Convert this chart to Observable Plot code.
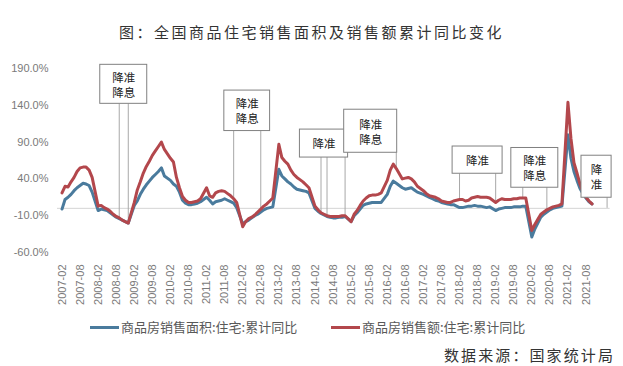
<!DOCTYPE html>
<html><head><meta charset="utf-8">
<script src="https://cdn.jsdelivr.net/npm/d3@7"></script>
<script src="https://cdn.jsdelivr.net/npm/@observablehq/plot@0.6"></script>
<style>
body{margin:0;background:#fff;}
#wrap{position:relative;width:623px;height:366px;overflow:hidden;background:#fff;}
#title{position:absolute;left:0;top:22px;width:623px;text-align:center;font-family:"Noto Sans CJK SC",sans-serif;font-size:15px;letter-spacing:2.5px;color:#333;line-height:20px;white-space:nowrap;}
#chart{position:absolute;left:0;top:50px;}
.leg{position:absolute;top:318px;height:18px;line-height:18px;font-family:"Noto Sans CJK SC",sans-serif;font-size:13px;color:#595959;white-space:nowrap;}
.sw{position:absolute;top:7.5px;width:29px;height:3px;}
#source{position:absolute;left:444px;top:345px;font-family:"Noto Sans CJK SC",sans-serif;font-size:15px;letter-spacing:2.1px;color:#333;line-height:20px;white-space:nowrap;}
</style></head><body>
<div id="wrap">
  <div id="title"></div>
  <div id="chart"></div>
  <div id="leg1" class="leg" style="left:90px"><span class="sw" style="left:0;background:#4a7b9d"></span><span id="leg1t" style="position:absolute;left:31px"></span></div>
  <div id="leg2" class="leg" style="left:331px"><span class="sw" style="left:0;background:#b3474c"></span><span id="leg2t" style="position:absolute;left:31px"></span></div>
  <div id="source"></div>
</div>
<script>
const titleText = "图：全国商品住宅销售面积及销售额累计同比变化";
const sourceText = "数据来源：国家统计局";
const seriesNames = ["商品房销售面积:住宅:累计同比", "商品房销售额:住宅:累计同比"];
const seriesColors = ["#4a7b9d", "#b3474c"];

// months (Feb–Dec each year; Jan merged into Feb)
const years = [2007,2008,2009,2010,2011,2012,2013,2014,2015,2016,2017,2018,2019,2020,2021];
const monthNums = ["02","03","04","05","06","07","08","09","10","11","12"];

// 商品房销售面积:住宅:累计同比 (%), 11 values per year, 2021 to Oct
const areaYoY = [
  -1, 12, 15, 19, 24, 28, 31, 34, 33, 31, 22,
  -3, -1, -2, -3, -6, -9, -12, -14, -16, -18, -20,
  4, 10, 19, 26, 32, 37, 42, 46, 50, 55, 44,
  38, 33, 30, 22, 11, 7, 5, 5, 6, 7, 9,
  15, 11, 6, 9, 10, 11, 13, 11, 9, 7, 1,
  -21, -18, -16, -13, -10, -8, -5, -2, 0, 1, 2,
  53, 44, 40, 36, 33, 29, 26, 25, 24, 23, 21,
  0, -4, -7, -9, -11, -12, -13, -13, -12, -12, -11,
  -18, -10, -6, -1, 4, 6, 7, 8, 8, 8, 8,
  19, 30, 37, 34, 31, 28, 26, 27, 28, 25, 22,
  19, 17, 15, 13, 11, 10, 8, 7, 6, 5, 5,
  1, 1, 2, 3, 3, 4, 3, 3, 2, 1, 2,
  -3, -1, 0, 1, 1, 1, 2, 2, 2, 3, 3,
  -39, -28, -20, -12, -8, -5, -2, 0, 1, 2, 3,
  100, 68, 50, 38, 27, 20, 14, 9, 6
];
// 商品房销售额:住宅:累计同比 (%)
const amountYoY = [
  21, 30, 29, 36, 42, 50, 55, 56, 56, 52, 42,
  3, 4, 1, -1, -4, -8, -11, -13, -16, -18, -20,
  8, 25, 36, 48, 57, 64, 72, 78, 84, 90, 80,
  68, 63, 42, 28, 16, 11, 8, 8, 9, 10, 13,
  28, 17, 15, 21, 23, 24, 23, 20, 17, 13, 8,
  -25, -18, -14, -12, -9, -5, -1, 3, 6, 10, 14,
  87, 69, 64, 60, 52, 46, 42, 39, 36, 32, 28,
  3, -2, -6, -8, -10, -11, -11, -11, -11, -10, -10,
  -18, -8, -3, 4, 10, 14, 17, 18, 18, 19, 21,
  38, 52, 60, 54, 47, 40, 41, 42, 40, 36, 30,
  24, 20, 17, 16, 15, 13, 10, 9, 8, 8, 10,
  12, 12, 10, 11, 14, 15, 16, 15, 15, 15, 14,
  8, 11, 13, 12, 12, 12, 13, 13, 14, 14, 14,
  -30, -22, -15, -8, -5, -2, 0, 2, 3, 4, 6,
  144, 95, 62, 48, 33, 22, 15, 10, 6
];

const yTicks = [-60, -10, 40, 90, 140, 190];
const xTickLabels = ["2007-02","2007-08","2008-02","2008-08","2009-02","2009-08","2010-02","2010-08",
  "2011-02","2011-08","2012-02","2012-08","2013-02","2013-08","2014-02","2014-08","2015-02","2015-08",
  "2016-02","2016-08","2017-02","2017-08","2018-02","2018-08","2019-02","2019-08","2020-02","2020-08",
  "2021-02","2021-08"];

// policy events: pairs of dates and label
const eventDates = [
  ["2008-09","2008-12"],
  ["2011-11","2012-08"],
  ["2014-04","2014-06"],
  ["2014-12","2016-05"],
  ["2018-02","2019-02"],
  ["2019-11","2020-07"],
  ["2021-08","2022-03"]
];
const eventLabels = ["降准\n降息","降准\n降息","降准","降准\n降息","降准","降准\n降息","降\n准"];

// annotation box layout (half-width in months, bottom/top in % units)
const boxHalfWidth = [7.8, 7.6, 8, 8.8, 8.3, 7.8, 5];
const boxBottom = [142, 105, 69, 75.5, 47, 28, 14.4];
const boxTop = [195, 160, 107, 134, 84, 82, 71.5];

// ---- build
const monthIndex = s => { const [y, m] = s.split("-").map(Number); return (y - 2007) * 12 + (m - 2); };
const monthList = [];
years.forEach(y => monthNums.forEach(m => monthList.push(`${y}-${m}`)));
const rows = areaYoY.map((a, k) => ({month: monthList[k], i: monthIndex(monthList[k]), area: a, amount: amountYoY[k]}));
const byIdx = new Map(rows.map(r => [r.i, r]));

const rules = [];
const boxes = eventDates.map((pair, k) => {
  const i1 = monthIndex(pair[0]), i2 = monthIndex(pair[1]);
  [i1, i2].forEach(i => {
    const r = byIdx.get(i);
    rules.push({i, y1: boxBottom[k], y2: r ? r.amount : 0});
  });
  const c = (i1 + i2) / 2;
  return {x1: c - boxHalfWidth[k], x2: c + boxHalfWidth[k], cx: c, y1: boxBottom[k], y2: boxTop[k], cy: (boxBottom[k] + boxTop[k]) / 2, label: eventLabels[k]};
});

document.getElementById("title").textContent = titleText;
document.getElementById("source").textContent = sourceText;
document.getElementById("leg1t").textContent = seriesNames[0];
document.getElementById("leg2t").textContent = seriesNames[1];

const tickMap = new Map(xTickLabels.map(s => [monthIndex(s), s]));

const chart = Plot.plot({
  width: 623, height: 260,
  marginTop: 18, marginBottom: 58, marginLeft: 57, marginRight: 13.4,
  style: {fontFamily: "'Liberation Sans', Arial, sans-serif", fontSize: "11px", color: "#7a7a7a", background: "transparent"},
  x: {type: "linear", domain: [-1.5, 182]},
  y: {domain: [-60, 190]},
  marks: [
    Plot.ruleY([0], {stroke: "#d4d4d4", strokeWidth: 1}),
    Plot.axisY({ticks: yTicks, tickFormat: d => d.toFixed(1) + "%", tickSize: 0, tickPadding: 9, label: null, fontSize: 11}),
    Plot.axisX({ticks: [...tickMap.keys()], tickFormat: d => tickMap.get(d), tickRotate: -90, tickSize: 0, tickPadding: 12, label: null, fontSize: 11}),
    Plot.ruleX(rules, {x: "i", y1: "y1", y2: "y2", stroke: "#a8a8a8", strokeWidth: 1}),
    Plot.line(rows, {x: "i", y: "area", stroke: seriesColors[0], strokeWidth: 3, strokeLinejoin: "round"}),
    Plot.line(rows, {x: "i", y: "amount", stroke: seriesColors[1], strokeWidth: 3, strokeLinejoin: "round"}),
    Plot.rect(boxes, {x1: "x1", x2: "x2", y1: "y1", y2: "y2", fill: "white", stroke: "#808080", strokeWidth: 1}),
    Plot.text(boxes, {x: "cx", y: "cy", text: "label", fontSize: 11.5, lineHeight: 1.3, fill: "#222", fontFamily: "'Noto Sans CJK SC', sans-serif"})
  ]
});
document.getElementById("chart").appendChild(chart);
</script>
</body></html>
